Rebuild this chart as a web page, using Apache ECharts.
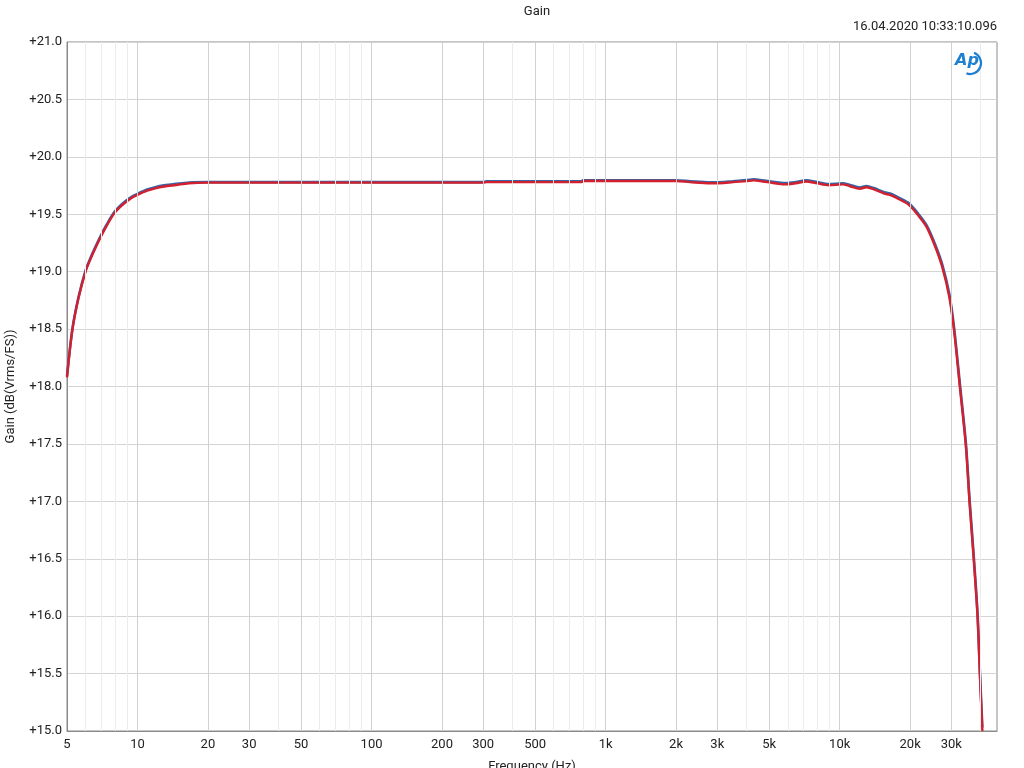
<!DOCTYPE html>
<html>
<head>
<meta charset="utf-8">
<script src="https://cdn.jsdelivr.net/npm/echarts@6/dist/echarts.min.js"></script>
<style>html,body{margin:0;padding:0;background:#fff}#c{width:1024px;height:768px}</style>
</head>
<body>
<div id="c"></div>
<script>
var freqs = [5, 5.27, 5.6, 6.0, 6.3, 6.63, 7.0, 7.34, 7.94, 8.4, 8.9, 9.4, 10, 11, 11.9, 13, 14.6, 16.6, 20, 25, 30, 50, 100, 200, 300, 310, 500, 790, 800, 1000, 1500, 2000, 2300, 2800, 3200, 3500, 4000, 4300, 4700, 5000, 5500, 5900, 6500, 7200, 7900, 9000, 10300, 11000, 12200, 13000, 14000, 15500, 16400, 18200, 19800, 21600, 23500, 25600, 27400, 29400, 30800, 32600, 34600, 35900, 37400, 38800, 39700, 40700];
var redGain = [18.08, 18.49, 18.77, 19.00, 19.11, 19.21, 19.31, 19.39, 19.505, 19.56, 19.605, 19.64, 19.668, 19.705, 19.726, 19.742, 19.755, 19.77, 19.775, 19.775, 19.775, 19.775, 19.775, 19.775, 19.775, 19.78, 19.78, 19.78, 19.79, 19.79, 19.79, 19.79, 19.78, 19.77, 19.772, 19.78, 19.788, 19.795, 19.785, 19.778, 19.765, 19.76, 19.77, 19.785, 19.772, 19.752, 19.76, 19.746, 19.722, 19.735, 19.717, 19.68, 19.668, 19.624, 19.58, 19.493, 19.39, 19.217, 19.043, 18.78, 18.49, 18.0, 17.48, 16.98, 16.49, 16.0, 15.5, 15.0];
var blueGain = [18.09, 18.50, 18.78, 19.01, 19.12, 19.22, 19.32, 19.40, 19.515, 19.57, 19.615, 19.65, 19.678, 19.715, 19.736, 19.752, 19.765, 19.777, 19.78, 19.78, 19.78, 19.78, 19.78, 19.78, 19.78, 19.787, 19.787, 19.787, 19.796, 19.796, 19.796, 19.796, 19.787, 19.778, 19.78, 19.788, 19.797, 19.805, 19.795, 19.788, 19.776, 19.771, 19.78, 19.795, 19.782, 19.762, 19.77, 19.757, 19.733, 19.746, 19.728, 19.692, 19.68, 19.636, 19.593, 19.507, 19.405, 19.235, 19.065, 18.805, 18.515, 18.03, 17.51, 17.01, 16.52, 16.03, 15.53, 15.03];
var xLabelValues = [5, 10, 20, 30, 50, 100, 200, 300, 500, 1000, 2000, 3000, 5000, 10000, 20000, 30000];
var xMinorGrid = [6, 7, 8, 9, 40, 60, 70, 80, 90, 400, 600, 700, 800, 900, 4000, 6000, 7000, 8000, 9000, 40000];
var xMajorGrid = [10, 20, 30, 50, 100, 200, 300, 500, 1000, 2000, 3000, 5000, 10000, 20000, 30000];
var titleText = 'Gain';
var stampText = '16.04.2020 10:33:10.096';

var FONT = 'Roboto';
var chart = echarts.init(document.getElementById('c'), null, {renderer: 'canvas'});

function pairs(ys) { return freqs.map(function (f, i) { return [f, ys[i]]; }); }
function gridLines(vals, color) {
  return vals.map(function (v) { return {xAxis: v, lineStyle: {color: color, width: 1, type: 'solid'}}; });
}

chart.setOption({
  animation: false,
  backgroundColor: '#ffffff',
  title: {
    text: titleText, left: 532, top: 0, textAlign: 'center',
    textStyle: {fontFamily: FONT, fontSize: 13, fontWeight: 'normal', color: '#222'}
  },
  graphic: [
    {type: 'text', right: 27, top: 20, style: {text: stampText, font: '13px Roboto', fill: '#222', textAlign: 'right'}},
    {type: 'arc', shape: {cx: 970, cy: 63, r: 11, startAngle: -1.2, endAngle: 1.9}, style: {stroke: '#1f7fd0', lineWidth: 2.2, fill: null}, z: 10},
    {type: 'text', left: 955, top: 53, style: {text: 'Ap', font: 'italic bold 16px "DejaVu Sans"', fill: '#1f7fd0'}, z: 10}
  ],
  grid: {left: 67, right: 27, top: 42, bottom: 37, show: true, borderColor: '#8a8a8a', borderWidth: 1, containLabel: false, outerBoundsMode: 'none'},
  xAxis: {
    type: 'log', logBase: 10, min: 5, max: 47000,
    name: 'Frequency (Hz)', nameLocation: 'middle', nameGap: 29,
    nameTextStyle: {fontFamily: FONT, fontSize: 13, color: '#222'},
    axisLine: {show: true, lineStyle: {color: '#8a8a8a'}},
    axisTick: {show: false},
    splitLine: {show: false},
    minorSplitLine: {show: false},
    axisLabel: {
      customValues: xLabelValues, margin: 7, fontFamily: FONT, fontSize: 13, color: '#222',
      formatter: function (v) { v = Math.round(v); return v >= 1000 ? (v / 1000) + 'k' : String(v); }
    }
  },
  yAxis: {
    type: 'value', min: 15, max: 21, interval: 0.5,
    name: 'Gain (dB(Vrms/FS))', nameLocation: 'middle', nameGap: 50,
    nameTextStyle: {fontFamily: FONT, fontSize: 13, color: '#222'},
    axisLine: {show: true, lineStyle: {color: '#8a8a8a'}},
    axisTick: {show: false},
    splitLine: {show: true, lineStyle: {color: '#d4d4d4', width: 1}},
    axisLabel: {
      margin: 5, fontFamily: FONT, fontSize: 13, color: '#222',
      formatter: function (v) { return '+' + v.toFixed(1); }
    }
  },
  series: [
    {
      type: 'line', data: [], silent: true, z: 1,
      markLine: {silent: true, symbol: ['none', 'none'], label: {show: false}, animation: false,
        data: gridLines(xMinorGrid, '#ececec').concat(gridLines(xMajorGrid, '#d0d0d0'))}
    },
    {
      name: 'Ch2', type: 'line', data: pairs(blueGain), showSymbol: false, smooth: 0.3, z: 3,
      lineStyle: {color: '#3563a6', width: 2.6}, itemStyle: {color: '#3563a6'}
    },
    {
      name: 'Ch1', type: 'line', data: pairs(redGain), showSymbol: false, smooth: 0.3, z: 4,
      lineStyle: {color: '#d3202e', width: 2.4}, itemStyle: {color: '#d3202e'}
    }
  ]
});
</script>
</body>
</html>
